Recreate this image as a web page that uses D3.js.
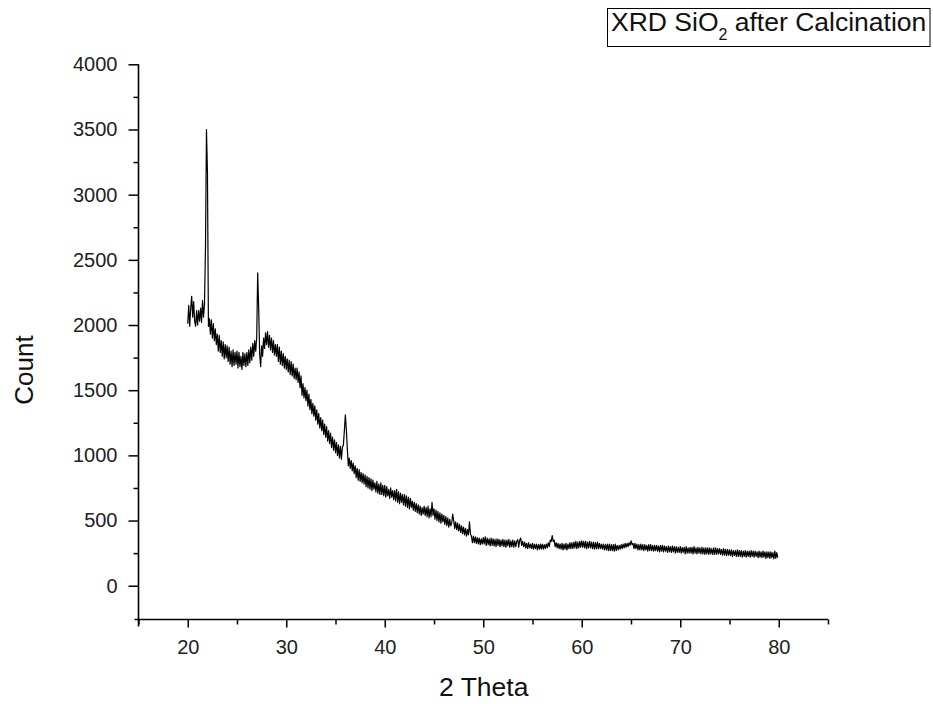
<!DOCTYPE html>
<html>
<head>
<meta charset="utf-8">
<script src="https://cdn.jsdelivr.net/npm/d3@7"></script>
<style>
  html, body { margin: 0; padding: 0; background: #fff; }
  svg { display: block; font-family: "Liberation Sans", Arial, sans-serif; }
</style>
</head>
<body>
<svg id="chart" width="933" height="704"></svg>
<script>
// ---- data ----
const thetaStart = 20.0;   // first 2θ of the scan
const thetaStep = 0.1;     // scan step in 2θ
const counts = [
  // 20
  2010, 2150, 1990, 2130, 2220, 2060, 2180, 2030, 1990, 2110,
  // 21
  2000, 2110, 2030, 2130, 2020, 2190, 2060, 2160, 2590, 3500,
  // 22
  3170, 1990, 2050, 1930, 2040, 1900, 2010, 1880, 1970, 1850,
  // 23
  1930, 1800, 1920, 1790, 1880, 1760, 1870, 1740, 1850, 1750,
  // 24
  1840, 1720, 1830, 1700, 1800, 1680, 1810, 1690, 1790, 1700,
  // 25
  1800, 1670, 1790, 1680, 1760, 1660, 1790, 1690, 1780, 1680,
  // 26
  1790, 1690, 1810, 1710, 1830, 1730, 1860, 1760, 1880, 1800,
  // 27
  1900, 2400, 2130, 1780, 1680, 1840, 1760, 1900, 1820, 1940,
  // 28
  1850, 1950, 1830, 1920, 1810, 1900, 1790, 1880, 1770, 1850,
  // 29
  1760, 1850, 1720, 1830, 1700, 1800, 1690, 1780, 1670, 1760,
  // 30
  1660, 1740, 1640, 1730, 1620, 1720, 1610, 1700, 1590, 1670,
  // 31
  1580, 1670, 1560, 1640, 1520, 1610, 1460, 1550, 1440, 1520,
  // 32
  1420, 1500, 1380, 1470, 1350, 1430, 1320, 1400, 1300, 1380,
  // 33
  1270, 1350, 1240, 1320, 1210, 1290, 1190, 1270, 1160, 1240,
  // 34
  1140, 1220, 1110, 1190, 1090, 1170, 1060, 1140, 1040, 1120,
  // 35
  1020, 1100, 1000, 1080, 980, 1070, 970, 1060, 1080, 1190,
  // 36
  1310, 1200, 1050, 920, 980, 900, 960, 880, 940, 860,
  // 37
  920, 830, 900, 810, 890, 800, 870, 790, 860, 780,
  // 38
  850, 760, 840, 750, 830, 740, 820, 730, 810, 740,
  // 39
  790, 720, 800, 710, 780, 700, 790, 700, 770, 690,
  // 40
  770, 680, 760, 690, 740, 670, 750, 680, 730, 660,
  // 41
  730, 650, 740, 640, 720, 630, 710, 640, 700, 620,
  // 42
  700, 610, 690, 600, 680, 590, 670, 600, 650, 580,
  // 43
  640, 570, 630, 560, 620, 550, 610, 540, 600, 550,
  // 44
  610, 540, 600, 530, 610, 520, 590, 530, 640, 540,
  // 45
  590, 510, 580, 500, 570, 490, 560, 480, 550, 490,
  // 46
  540, 470, 530, 460, 520, 450, 510, 460, 480, 550,
  // 47
  500, 440, 490, 430, 480, 420, 470, 410, 460, 400,
  // 48
  450, 390, 440, 380, 430, 390, 490, 400, 380, 330,
  // 49
  380, 330, 375, 325, 370, 320, 365, 315, 360, 320,
  // 50
  370, 320, 375, 310, 365, 315, 360, 305, 365, 310,
  // 51
  360, 305, 355, 300, 360, 310, 355, 300, 350, 305,
  // 52
  355, 300, 350, 295, 350, 305, 355, 295, 345, 300,
  // 53
  350, 295, 345, 300, 340, 355, 295, 350, 365, 310,
  // 54
  340, 300, 335, 290, 325, 285, 330, 290, 320, 285,
  // 55
  325, 280, 320, 285, 320, 275, 315, 280, 320, 280,
  // 56
  320, 280, 315, 285, 320, 290, 330, 300, 350, 340,
  // 57
  385, 340, 350, 300, 330, 290, 325, 285, 320, 280,
  // 58
  325, 275, 320, 280, 325, 275, 320, 285, 330, 285,
  // 59
  330, 285, 335, 290, 340, 285, 335, 290, 340, 295,
  // 60
  345, 295, 340, 290, 340, 285, 335, 290, 340, 290,
  // 61
  335, 285, 335, 280, 330, 285, 335, 285, 325, 285,
  // 62
  320, 280, 320, 275, 315, 275, 320, 270, 320, 270,
  // 63
  315, 270, 315, 265, 320, 270, 310, 275, 310, 280,
  // 64
  315, 285, 320, 290, 325, 295, 325, 300, 330, 310,
  // 65
  345, 315, 325, 285, 325, 285, 320, 275, 315, 275,
  // 66
  320, 275, 315, 270, 315, 275, 310, 265, 315, 270,
  // 67
  315, 270, 310, 265, 310, 270, 310, 265, 305, 260,
  // 68
  310, 265, 310, 260, 305, 265, 300, 255, 305, 260,
  // 69
  300, 255, 305, 260, 300, 250, 300, 255, 295, 255,
  // 70
  300, 250, 295, 255, 295, 245, 300, 250, 290, 250,
  // 71
  295, 250, 295, 245, 300, 250, 290, 245, 295, 250,
  // 72
  290, 245, 295, 245, 290, 240, 290, 245, 290, 240,
  // 73
  290, 245, 285, 240, 290, 240, 290, 240, 285, 245,
  // 74
  285, 240, 280, 235, 285, 235, 280, 230, 280, 235,
  // 75
  275, 230, 275, 225, 270, 230, 270, 225, 275, 225,
  // 76
  270, 225, 270, 220, 265, 225, 270, 220, 265, 225,
  // 77
  265, 220, 270, 225, 265, 220, 265, 225, 260, 215,
  // 78
  265, 220, 260, 215, 265, 220, 260, 210, 260, 215,
  // 79
  260, 210, 260, 215, 255, 205, 265, 210, 255, 215
];
const xMajorTicks = [20, 30, 40, 50, 60, 70, 80];
const xMinorTicks = [15, 25, 35, 45, 55, 65, 75, 85];
const yMajorTicks = [0, 500, 1000, 1500, 2000, 2500, 3000, 3500, 4000];
const yMinorTicks = [250, 750, 1250, 1750, 2250, 2750, 3250, 3750];
const xLabel = "2 Theta";
const yLabel = "Count";
const legendText = ["XRD SiO", "2", " after Calcination"];

// ---- layout ----
const svg = d3.select("#chart");
const x = d3.scaleLinear().domain([15, 85]).range([138.5, 828]);
const y = d3.scaleLinear().domain([-259, 4000]).range([619.5, 64.3]);

const points = counts.map((c, i) => [thetaStart + i * thetaStep, c]);

// data line
svg.append("path")
  .datum(points)
  .attr("fill", "none")
  .attr("stroke", "#000")
  .attr("stroke-width", 1.2)
  .attr("stroke-linejoin", "round")
  .attr("d", d3.line().x(d => x(d[0])).y(d => y(d[1])));

// axes
function styleAxis(g) {
  g.select(".domain").remove();
  g.selectAll(".tick line").attr("stroke", "#000").attr("stroke-width", 1.5);
  g.selectAll(".tick text").attr("fill", "#222")
    .style("font-family", "'Liberation Sans', Arial, sans-serif")
    .style("font-size", "20px");
}

const y0 = y(y.domain()[0]);
const x0 = x(x.domain()[0]);

svg.append("g").attr("transform", `translate(0,${y0})`)
  .call(d3.axisBottom(x).tickValues(xMajorTicks).tickSize(8).tickPadding(12).tickFormat(d3.format("d")))
  .call(styleAxis);
svg.append("g").attr("transform", `translate(0,${y0})`)
  .call(d3.axisBottom(x).tickValues(xMinorTicks).tickSize(5).tickFormat(""))
  .call(styleAxis);
svg.append("g").attr("transform", `translate(${x0},0)`)
  .call(d3.axisLeft(y).tickValues(yMajorTicks).tickSize(10).tickPadding(11).tickFormat(d3.format("d")))
  .call(styleAxis);
svg.append("g").attr("transform", `translate(${x0},0)`)
  .call(d3.axisLeft(y).tickValues(yMinorTicks).tickSize(5).tickFormat(""))
  .call(styleAxis);

// axis lines (crossing slightly at the origin)
svg.append("line").attr("x1", x0).attr("x2", x0).attr("y1", y(4000)).attr("y2", y0 + 7)
  .attr("stroke", "#000").attr("stroke-width", 1.6);
svg.append("line").attr("x1", x0 - 4).attr("x2", x(85)).attr("y1", y0).attr("y2", y0)
  .attr("stroke", "#000").attr("stroke-width", 1.6);

// axis titles
svg.append("text")
  .attr("x", (x(15) + x(85)) / 2 + 0.5).attr("y", 696)
  .attr("text-anchor", "middle").attr("fill", "#111")
  .style("font-size", "26.5px")
  .text(xLabel);
svg.append("text")
  .attr("transform", `translate(33,370) rotate(-90)`)
  .attr("text-anchor", "middle").attr("fill", "#111")
  .style("font-size", "26px")
  .text(yLabel);

// legend box
svg.append("rect")
  .attr("x", 607.5).attr("y", 8.5).attr("width", 322.5).attr("height", 38)
  .attr("fill", "#fff").attr("stroke", "#000").attr("stroke-width", 1);
const lt = svg.append("text").attr("x", 611).attr("y", 31).attr("fill", "#111")
  .style("font-size", "26.5px");
lt.append("tspan").text(legendText[0]);
lt.append("tspan").attr("dy", 9).style("font-size", "16px").text(legendText[1]);
lt.append("tspan").attr("dy", -9).text(legendText[2]);
</script>
</body>
</html>
